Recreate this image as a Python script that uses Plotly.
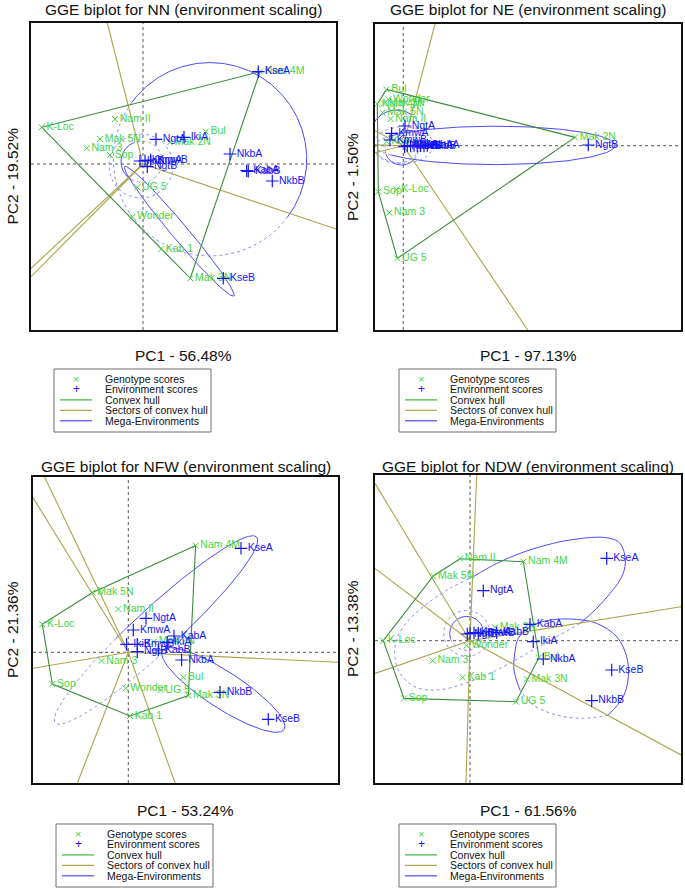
import numpy as np
import plotly.graph_objects as go

W, H = 685, 889
FONT = "Liberation Sans"
SCALE = 10.0  # pixels per biplot unit (equal aspect)

GENOTYPES = ["K-Loc", "Nam II", "Mak 5N", "Nam 3", "Sop", "UG 5", "Wonder",
             "Kab 1", "Mak 3N", "Bul", "Mak 2N", "Nam 4M"]
ENVIRONMENTS = ["KseA", "KseB", "NgtA", "NgtB", "IkiA", "IkiB", "NkbA", "NkbB",
                "KabA", "KabB", "KmwA", "KmwB"]

# ---------------- NN ----------------
nn_geno_pc1 = [-10.13, -2.80, -4.30, -5.63, -3.30, -0.57, -1.07, 1.80, 4.73, 6.27, 2.70, 11.70]
nn_geno_pc2 = [3.67, 4.50, 2.50, 1.57, 0.90, -2.33, -5.27, -8.53, -11.43, 3.23, 2.17, 9.23]
nn_env_pc1 = [11.53, 8.03, 1.30, 0.43, 4.10, -0.30, 8.70, 12.93, 10.37, 10.53, 0.20, 0.77]
nn_env_pc2 = [9.23, -11.43, 2.47, -0.27, 2.67, 0.30, 1.00, -1.70, -0.67, -0.73, 0.33, 0.40]
nn_hull = ["K-Loc", "Nam 4M", "Mak 3N"]
nn_sector_pc1 = [-3.57, 19.30, -11.20, -11.20]
nn_sector_pc2 = [14.10, -6.50, -10.43, -11.27]
# mega-environment ellipses: centre, semi-axes, rotation, solid arc (deg)
nn_ell_cx = [6.70, 3.63, -0.13, -0.20]
nn_ell_cy = [0.47, -6.73, 0.23, -0.20]
nn_ell_a = [9.67, 8.46, 2.07, 3.20]
nn_ell_b = [9.67, 0.80, 2.07, 3.20]
nn_ell_rot = [0, -49.9, 0, 0]
nn_ell_solid_from = [-37, -180, 110, 0]
nn_ell_solid_to = [144, 180, 240, 0]

# ---------------- NE ----------------
ne_geno_pc1 = [-0.67, -1.27, -2.07, -1.40, -2.50, -0.60, -1.50, -1.67, -1.93, -1.67, 17.17, -2.60]
ne_geno_pc2 = [-4.37, 2.67, 3.30, -6.70, -4.60, -11.27, 4.63, 0.40, 4.23, 5.63, 0.83, 4.17]
ne_env_pc1 = [0.40, 0.73, 0.17, 18.50, 1.07, 1.40, 1.73, 2.07, 2.40, 0.13, -1.17, -1.33]
ne_env_pc2 = [0.00, -0.03, 1.97, 0.07, 0.03, -0.03, 0.00, -0.03, 0.03, -0.10, 1.23, 0.57]
ne_hull = ["Bul", "Mak 2N", "UG 5", "Sop", "Nam 4M"]
ne_sector_pc1 = [3.17, 12.44, -2.83, -2.83, -2.83]
ne_sector_pc2 = [12.17, -18.43, 1.50, 0.10, -0.70]
ne_ell_cx = [9.17, -0.67, -0.17, 0.00]
ne_ell_cy = [0.03, 0.90, -0.27, 0.07]
ne_ell_a = [12.00, 2.67, 1.67, 3.00]
ne_ell_b = [1.92, 2.67, 1.67, 1.83]
ne_ell_rot = [0, 0, 0, 0]
ne_ell_solid_from = [-150, 55, 200, 0]
ne_ell_solid_to = [150, 170, 320, 0]

# ---------------- NFW ----------------
nfw_geno_pc1 = [-8.60, -1.00, -3.57, -2.67, -7.60, 3.23, -0.27, 0.17, 6.00, 5.50, 2.57, 6.73]
nfw_geno_pc2 = [2.80, 4.33, 5.97, -0.87, -3.17, -3.77, -3.60, -6.37, -4.33, -2.50, 1.07, 10.67]
nfw_env_pc1 = [11.27, 14.00, 1.77, 0.90, 3.90, -0.17, 5.33, 9.17, 4.57, 3.00, 0.50, 0.90]
nfw_env_pc2 = [10.40, -6.70, 3.40, 0.07, 1.00, 0.80, -0.77, -4.00, 1.63, 0.23, 2.23, 0.80]
nfw_hull = ["Nam 4M", "Mak 3N", "Kab 1", "Sop", "K-Loc", "Mak 5N"]
nfw_sector_pc1 = [-8.37, -9.53, -9.53, 20.97, -5.09, 4.68]
nfw_sector_pc2 = [17.53, 15.47, -1.60, -1.00, -13.07, -13.07]
nfw_ell_cx = [2.77, 9.50]
nfw_ell_cy = [2.23, -3.77]
nfw_ell_a = [13.70, 7.25]
nfw_ell_b = [2.17, 1.83]
nfw_ell_rot = [42.7, -33.0]
nfw_ell_solid_from = [-85, -180]
nfw_ell_solid_to = [105, 180]

# ---------------- NDW ----------------
ndw_geno_pc1 = [-8.67, -1.00, -3.67, -3.73, -6.60, 4.60, -0.33, -0.73, 5.67, 6.90, 2.50, 5.33]
ndw_geno_pc2 = [0.00, 8.20, 6.47, -2.00, -5.77, -6.10, -0.50, -3.67, -3.83, -1.67, 1.33, 7.90]
ndw_env_pc1 = [13.67, 14.17, 1.33, -0.27, 6.33, 0.00, 7.33, 12.17, 6.00, 2.67, 0.40, 0.83]
ndw_env_pc2 = [8.23, -2.93, 5.00, 0.67, -0.10, 0.73, -1.83, -6.00, 1.63, 0.80, 0.80, 0.73]
ndw_hull = ["Nam II", "Nam 4M", "Bul", "UG 5", "Sop", "K-Loc", "Mak 5N"]
ndw_sector_pc1 = [0.67, -9.50, -9.50, -9.50, -0.40, 21.10, 21.10]
ndw_sector_pc2 = [16.57, 15.73, 7.23, -3.27, -14.23, 3.40, -11.43]
ndw_ell_cx = [-0.33, -0.33]
ndw_ell_cy = [0.73, 0.73]
ndw_ell_a = [1.70, 2.30]
ndw_ell_b = [1.70, 2.30]
ndw_ell_rot = [0, 0]
ndw_ell_solid_from = [20, 0]
ndw_ell_solid_to = [200, 0]
# outline traced mega-environment boundaries (solid part, dotted part)
ndw_me1_solid_pc1 = [0.33, 2.67, 5.00, 7.67, 10.00, 13.33, 14.83, 15.40, 15.50, 15.00, 14.00, 12.67, 11.00]
ndw_me1_solid_pc2 = [6.40, 7.73, 8.73, 9.57, 10.07, 10.33, 9.90, 8.90, 7.40, 6.07, 4.73, 3.23, 1.73]
ndw_me1_dot_pc1 = [11.00, 8.67, 6.00, 3.33, 0.00, -3.33, -5.67, -7.17, -7.50, -6.67, -4.67, -2.00, 0.33]
ndw_me1_dot_pc2 = [1.73, 0.40, -1.10, -2.60, -4.10, -4.93, -4.53, -2.93, -0.60, 1.40, 3.40, 5.23, 6.40]
ndw_me2_solid_pc1 = [5.00, 4.40, 4.50, 4.83, 6.00, 8.00, 10.67, 12.67, 14.67, 15.67, 15.83, 15.33, 13.83]
ndw_me2_solid_pc2 = [-4.93, -2.93, -1.10, 0.23, 1.40, 2.07, 2.13, 1.73, 0.40, -1.60, -3.60, -5.60, -7.43]
ndw_me2_dot_pc1 = [13.83, 11.33, 8.67, 6.33, 5.00]
ndw_me2_dot_pc2 = [-7.43, -7.77, -7.43, -6.43, -4.93]

# ---------------- styling / layout (not data) ----------------
GREEN_PT = "#45d545"
HULL_C = "#3a8c3a"
SECTOR_C = "#ada34c"
BLUE_PT = "#1414ff"
ELL_C = "#4a4aff"
ELL_DOT_C = "#8d8dff"
AXIS_DOT_C = "#555555"

PANELS = [
    dict(title="GGE biplot for NN (environment scaling)", xlab="PC1 - 56.48%", ylab="PC2 - 19.52%",
         frame=(31, 336, 23, 330), origin=(143, 164), title_y=10, xlab_y=355, ylab_x=12,
         legend=(54, 369, 211, 432),
         geno=(nn_geno_pc1, nn_geno_pc2), env=(nn_env_pc1, nn_env_pc2), hull=nn_hull,
         sectors=(nn_sector_pc1, nn_sector_pc2),
         ell=(nn_ell_cx, nn_ell_cy, nn_ell_a, nn_ell_b, nn_ell_rot, nn_ell_solid_from, nn_ell_solid_to),
         paths=[]),
    dict(title="GGE biplot for NE (environment scaling)", xlab="PC1 - 97.13%", ylab="PC2 - 1.50%",
         frame=(375, 681, 24, 330), origin=(403.3, 145.7), title_y=10, xlab_y=355, ylab_x=352,
         legend=(399, 369, 556, 432),
         geno=(ne_geno_pc1, ne_geno_pc2), env=(ne_env_pc1, ne_env_pc2), hull=ne_hull,
         sectors=(ne_sector_pc1, ne_sector_pc2),
         ell=(ne_ell_cx, ne_ell_cy, ne_ell_a, ne_ell_b, ne_ell_rot, ne_ell_solid_from, ne_ell_solid_to),
         paths=[]),
    dict(title="GGE biplot for NFW (environment scaling)", xlab="PC1 - 53.24%", ylab="PC2 - 21.36%",
         frame=(33, 338, 477, 783), origin=(128.3, 652.3), title_y=466, xlab_y=810, ylab_x=12,
         legend=(56, 824, 213, 887),
         geno=(nfw_geno_pc1, nfw_geno_pc2), env=(nfw_env_pc1, nfw_env_pc2), hull=nfw_hull,
         sectors=(nfw_sector_pc1, nfw_sector_pc2),
         ell=(nfw_ell_cx, nfw_ell_cy, nfw_ell_a, nfw_ell_b, nfw_ell_rot, nfw_ell_solid_from, nfw_ell_solid_to),
         paths=[]),
    dict(title="GGE biplot for NDW (environment scaling)", xlab="PC1 - 61.56%", ylab="PC2 - 13.38%",
         frame=(375, 681, 475, 783), origin=(470, 640.7), title_y=466, xlab_y=810, ylab_x=352,
         legend=(399, 824, 556, 887),
         geno=(ndw_geno_pc1, ndw_geno_pc2), env=(ndw_env_pc1, ndw_env_pc2), hull=ndw_hull,
         sectors=(ndw_sector_pc1, ndw_sector_pc2),
         ell=(ndw_ell_cx, ndw_ell_cy, ndw_ell_a, ndw_ell_b, ndw_ell_rot, ndw_ell_solid_from, ndw_ell_solid_to),
         paths=[(ndw_me1_solid_pc1, ndw_me1_solid_pc2, True), (ndw_me1_dot_pc1, ndw_me1_dot_pc2, False),
                (ndw_me2_solid_pc1, ndw_me2_solid_pc2, True), (ndw_me2_dot_pc1, ndw_me2_dot_pc2, False)]),
]


def ellipse_xy(cx, cy, a, b, rot, t0, t1, n=160):
    t = np.radians(np.linspace(t0, t1, n))
    th = np.radians(rot)
    x = cx + a * np.cos(t) * np.cos(th) - b * np.sin(t) * np.sin(th)
    y = cy + a * np.cos(t) * np.sin(th) + b * np.sin(t) * np.cos(th)
    return x, y


fig = go.Figure()
annotations = []
shapes = []
layout = {}

for i, p in enumerate(PANELS):
    sfx = "" if i == 0 else str(i + 1)
    xa, ya = "x" + sfx, "y" + sfx
    L, R, T, B = p["frame"]
    ox, oy = p["origin"]
    layout["xaxis" + sfx] = dict(domain=[L / W, R / W], range=[(L - ox) / SCALE, (R - ox) / SCALE],
                                 showgrid=False, zeroline=False, showticklabels=False, ticks="",
                                 showline=True, mirror=True, linecolor="#111111", linewidth=1.6,
                                 anchor=ya, fixedrange=True)
    layout["yaxis" + sfx] = dict(domain=[1 - B / H, 1 - T / H], range=[(oy - B) / SCALE, (oy - T) / SCALE],
                                 showgrid=False, zeroline=False, showticklabels=False, ticks="",
                                 showline=True, mirror=True, linecolor="#111111", linewidth=1.6,
                                 anchor=xa, fixedrange=True)
    # dotted origin axes
    shapes.append(dict(type="line", xref=xa, yref=ya + " domain", x0=0, x1=0, y0=0, y1=1,
                       line=dict(color=AXIS_DOT_C, width=1, dash="dot"), layer="below"))
    shapes.append(dict(type="line", xref=xa + " domain", yref=ya, x0=0, x1=1, y0=0, y1=0,
                       line=dict(color=AXIS_DOT_C, width=1, dash="dot"), layer="below"))

    # mega-environment ellipses
    cx, cy, ea, eb, er, s0, s1 = p["ell"]
    for k in range(len(cx)):
        if s1[k] > s0[k]:
            x, y = ellipse_xy(cx[k], cy[k], ea[k], eb[k], er[k], s0[k], s1[k])
            fig.add_trace(go.Scatter(x=x, y=y, mode="lines", line=dict(color=ELL_C, width=1),
                                     xaxis=xa, yaxis=ya, hoverinfo="skip"))
        if s1[k] - s0[k] < 360:
            x, y = ellipse_xy(cx[k], cy[k], ea[k], eb[k], er[k], s1[k], s0[k] + 360)
            fig.add_trace(go.Scatter(x=x, y=y, mode="lines",
                                     line=dict(color=ELL_DOT_C, width=1, dash="dot"),
                                     xaxis=xa, yaxis=ya, hoverinfo="skip"))
    for px_, py_, solid in p["paths"]:
        fig.add_trace(go.Scatter(x=px_, y=py_, mode="lines",
                                 line=dict(color=ELL_C if solid else ELL_DOT_C, width=1,
                                           dash="solid" if solid else "dot", shape="spline", smoothing=1.0),
                                 xaxis=xa, yaxis=ya, hoverinfo="skip"))

    # sector lines from the origin
    sx, sy = p["sectors"]
    for k in range(len(sx)):
        fig.add_trace(go.Scatter(x=[0, sx[k]], y=[0, sy[k]], mode="lines",
                                 line=dict(color=SECTOR_C, width=1.1), xaxis=xa, yaxis=ya, hoverinfo="skip"))

    # convex hull
    gx, gy = p["geno"]
    idx = [GENOTYPES.index(n) for n in p["hull"]] + [GENOTYPES.index(p["hull"][0])]
    fig.add_trace(go.Scatter(x=[gx[j] for j in idx], y=[gy[j] for j in idx], mode="lines",
                             line=dict(color=HULL_C, width=1.1), xaxis=xa, yaxis=ya, hoverinfo="skip"))

    # genotype scores
    fig.add_trace(go.Scatter(x=gx, y=gy, mode="markers+text", text=GENOTYPES, textposition="middle right",
                             textfont=dict(family=FONT, size=10.5, color=GREEN_PT),
                             marker=dict(symbol="x-thin", size=6, color=GREEN_PT,
                                         line=dict(width=1, color=GREEN_PT)),
                             xaxis=xa, yaxis=ya))
    # environment scores
    ex, ey = p["env"]
    fig.add_trace(go.Scatter(x=ex, y=ey, mode="markers+text", text=ENVIRONMENTS, textposition="middle right",
                             textfont=dict(family=FONT, size=10.5, color=BLUE_PT),
                             marker=dict(symbol="cross-thin", size=9, color=BLUE_PT,
                                         line=dict(width=1.2, color=BLUE_PT)),
                             xaxis=xa, yaxis=ya))

    # titles / axis labels
    annotations.append(dict(text=p["title"], x=(L + R) / 2 / W, y=1 - p["title_y"] / H, xref="paper", yref="paper",
                            xanchor="center", yanchor="middle", showarrow=False,
                            font=dict(family=FONT, size=15.5, color="#111111")))
    annotations.append(dict(text=p["xlab"], x=(L + R) / 2 / W, y=1 - p["xlab_y"] / H, xref="paper", yref="paper",
                            xanchor="center", yanchor="middle", showarrow=False,
                            font=dict(family=FONT, size=15.5, color="#111111")))
    annotations.append(dict(text=p["ylab"], x=p["ylab_x"] / W, y=1 - (T + B) / 2 / H, xref="paper", yref="paper",
                            xanchor="center", yanchor="middle", showarrow=False, textangle=-90,
                            font=dict(family=FONT, size=15.5, color="#111111")))

    # legend box
    lx0, ly0, lx1, ly1 = p["legend"]
    shapes.append(dict(type="rect", xref="paper", yref="paper", x0=lx0 / W, x1=lx1 / W,
                       y0=1 - ly1 / H, y1=1 - ly0 / H, line=dict(color="#6e6e6e", width=1),
                       fillcolor="white", layer="above"))
    rows = [("Genotype scores", "sym", "×", GREEN_PT), ("Environment scores", "sym", "+", BLUE_PT),
            ("Convex hull", "line", None, "#39b539"), ("Sectors of convex hull", "line", None, SECTOR_C),
            ("Mega-Environments", "line", None, "#4a4aff")]
    for r, (lab, kind, sym, col) in enumerate(rows):
        yy = ly0 + 10 + r * 10.45
        annotations.append(dict(text=lab, x=(lx0 + 48.5) / W, y=1 - yy / H, xref="paper", yref="paper",
                                xanchor="left", yanchor="middle", showarrow=False,
                                font=dict(family=FONT, size=10.5, color="#111111")))
        if kind == "sym":
            annotations.append(dict(text=sym, x=(lx0 + 22) / W, y=1 - yy / H, xref="paper", yref="paper",
                                    xanchor="center", yanchor="middle", showarrow=False,
                                    font=dict(family=FONT, size=12 if sym == "+" else 11, color=col)))
        else:
            shapes.append(dict(type="line", xref="paper", yref="paper", x0=(lx0 + 6) / W, x1=(lx0 + 38) / W,
                               y0=1 - yy / H, y1=1 - yy / H, line=dict(color=col, width=1.2), layer="above"))

fig.update_layout(width=W, height=H, margin=dict(l=0, r=0, t=0, b=0), autosize=False,
                  paper_bgcolor="white", plot_bgcolor="white", showlegend=False,
                  annotations=annotations, shapes=shapes, **layout)

fig.write_html("out.html", config={"displayModeBar": False, "staticPlot": True},
               post_script="document.body.style.margin='0';document.body.style.overflow='hidden';")
